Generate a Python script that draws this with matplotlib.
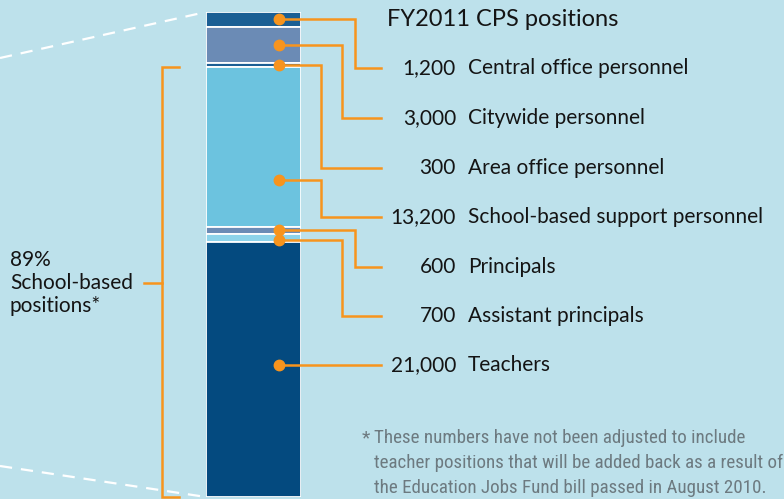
import matplotlib.pyplot as plt
from matplotlib import font_manager
import numpy as np

# FY2011 CPS positions (top of the bar to bottom)
categories = ['Central office personnel', 'Citywide personnel', 'Area office personnel',
              'School-based support personnel', 'Principals', 'Assistant principals', 'Teachers']
positions = [1200, 3000, 300, 13200, 600, 700, 21000]
value_labels = ['1,200', '3,000', '300', '13,200', '600', '700', '21,000']
share_label = '89%\nSchool-based\npositions*'
footnote = ['These numbers have not been adjusted to include',
            'teacher positions that will be added back as a result of',
            'the Education Jobs Fund bill passed in August 2010.']

# colours
bg = '#bde1eb'
orange = '#f7941d'
ink = '#141414'
grey = '#6d7a80'
seg_colors = ['#1b5f94', '#6b8bb5', '#1b5f94', '#6cc3df', '#6b8bb5', '#8dd3ea', '#044a7f']

# layout (pixels)
W, H = 784, 499
label_y = [68, 118, 168, 217, 267, 316, 366]
elbow_x = [355, 342, 321, 321, 355, 342, None]
dot_frac = [0.5, 0.5, 0.5, 0.71, 0.5, 0.75, 0.48]
font = ['Lato', 'DejaVu Sans']

# pick a narrow font for the footnote if one is installed
installed = {f.name: f for f in font_manager.fontManager.ttflist}
note_family, note_stretch = ['Lato', 'DejaVu Sans'], 'normal'
for name in ['Roboto Condensed', 'Liberation Sans Narrow', 'Open Sans Condensed',
             'Noto Sans Condensed']:
    if name in installed:
        note_family = [name, 'DejaVu Sans']
        break
else:
    if any(f.name == 'DejaVu Sans' and f.stretch == 'condensed'
           for f in font_manager.fontManager.ttflist):
        note_family, note_stretch = ['DejaVu Sans'], 'condensed'

fig = plt.figure(figsize=(W / 100, H / 100), dpi=100, facecolor=bg)

# bar axes
bax = fig.add_axes([206 / W, 2 / H, 95 / W, 485 / H])
total = sum(positions)
bottoms = np.concatenate([[0], np.cumsum(positions)[:-1]])
bax.bar([0] * len(positions), positions, bottom=bottoms, width=1, color=seg_colors,
        edgecolor='white', linewidth=1.3)
bax.set_xlim(-0.5, 0.5)
bax.set_ylim(total, 0)
bax.axis('off')
bax.patch.set_visible(False)

# overlay axes in pixel coordinates
ax = fig.add_axes([0, 0, 1, 1])
ax.set_xlim(0, W)
ax.set_ylim(H, 0)
ax.axis('off')
ax.patch.set_visible(False)

def to_px(y):
    d = bax.transData.transform((0, y))
    return ax.transData.inverted().transform(d)[1]

# dashed zoom lines
ax.plot([0, 206], [58, 12], color='white', lw=1.6, dashes=(5.5, 4))
ax.plot([0, 206], [466, 497], color='white', lw=1.6, dashes=(5.5, 4))

# connectors and labels
for i in range(len(positions)):
    yd = to_px(bottoms[i] + dot_frac[i] * positions[i])
    ly = label_y[i]
    if elbow_x[i] is None:
        xs, ys = [279, 381], [yd, yd]
        ly = yd
    else:
        xs = [279, elbow_x[i], elbow_x[i], 381]
        ys = [yd, yd, ly, ly]
    ax.plot(xs, ys, color=orange, lw=1.8, solid_joinstyle='miter')
    ax.plot(279, yd, 'o', color=orange, ms=7.5)
    ax.text(456, ly, value_labels[i], ha='right', va='center', fontsize=15,
            family=font, color=ink)
    ax.text(468, ly, categories[i], ha='left', va='center', fontsize=15,
            family=font, color=ink)

ax.text(387, 19, 'FY2011 CPS positions', ha='left', va='center', fontsize=17,
        family=font, color=ink)

# school-based bracket
top_px = to_px(sum(positions[:3]))
bot_px = to_px(total)
ax.plot([179, 162, 162, 179], [top_px, top_px, bot_px, bot_px], color=orange, lw=1.8,
        solid_joinstyle='miter')
ax.plot([144, 162], [283, 283], color=orange, lw=1.8)
ax.text(10, 283, share_label, ha='left', va='center', fontsize=15, family=font,
        color=ink, linespacing=1.2)

# footnote, sized so the longest line runs to the right edge
renderer = fig.canvas.get_renderer()
probe = ax.text(0, 0, footnote[1], fontsize=10, family=note_family, stretch=note_stretch)
probe_w = probe.get_window_extent(renderer).width
probe.remove()
note_size = 10 * 406 / probe_w
ax.text(362, 438, '*', ha='left', va='center', fontsize=note_size,
        family=note_family, stretch=note_stretch, color=grey)
for k, line in enumerate(footnote):
    ax.text(374, 438 + k * 25, line, ha='left', va='center', fontsize=note_size,
            family=note_family, stretch=note_stretch, color=grey)

fig.savefig('out.png', dpi=100, facecolor=bg)
